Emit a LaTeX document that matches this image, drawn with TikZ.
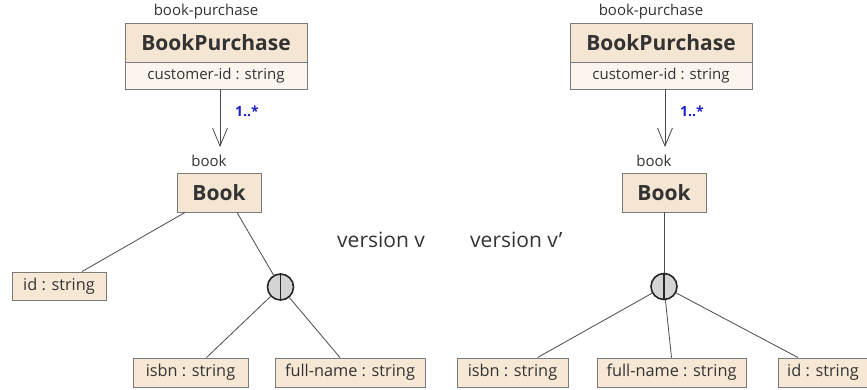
\documentclass[tikz,border=0pt]{standalone}
\usepackage{fontspec}
\setmainfont{Open Sans}
\usetikzlibrary{arrows.meta,calc}
\definecolor{hdr}{HTML}{F5E6D3}
\definecolor{att}{HTML}{FBF5EE}
\definecolor{leaf}{HTML}{F7E8D6}
\definecolor{bord}{HTML}{7A7A7A}
\definecolor{ln}{HTML}{4A4A4A}
\definecolor{mult}{HTML}{1E1ECC}
\definecolor{txt}{HTML}{333333}
\tikzset{
  boxbase/.style={draw=bord, line width=0.9pt, inner sep=0pt, anchor=center, text=txt},
  hdrbox/.style={boxbase, fill=hdr, font=\fontsize{21}{24}\selectfont\bfseries},
  attbox/.style={boxbase, fill=att, font=\fontsize{15}{18}\selectfont},
  leafbox/.style={boxbase, fill=leaf, font=\fontsize{16.3}{19}\selectfont},
  lbl/.style={font=\fontsize{15}{18}\selectfont, text=txt, inner sep=0pt},
  edge/.style={draw=ln, line width=0.8pt},
  grp/.style={circle, draw=black!85, line width=1.6pt, fill=black!17, minimum size=26pt, inner sep=0pt},
  multl/.style={font=\fontsize{14}{16}\selectfont\bfseries, text=mult, inner sep=0pt},
  ver/.style={font=\fontsize{21}{24}\selectfont, text=txt, inner sep=0pt},
  arr/.style={-{Straight Barb[length=18pt,width=15pt]}}
}
\begin{document}
\begin{tikzpicture}[x=1pt,y=-1pt]
\useasboundingbox (0,0) rectangle (867,389);
% ---------- left version ----------
\node[lbl] (bplA) at (206,12) {book-purchase};
\node[hdrbox, minimum width=182pt, minimum height=39pt] (bpA) at (216,42.5) {BookPurchase};
\node[attbox, minimum width=182pt, minimum height=27pt] (bpattA) at (216,75.5) {customer-id : string};
\node[lbl] (bklA) at (209,161) {book};
\node[hdrbox, minimum width=84pt, minimum height=39pt] (bkA) at (219,192.5) {Book};
\coordinate (tipA) at (220,147);
\draw[edge, arr] (bpattA.south -| tipA) -- (tipA);
\node[multl] (mA) at (247,111) {1..*};
\node[leafbox, minimum width=94pt, minimum height=28pt] (idA) at (59,286) {id : string};
\node[grp] (gA) at (280.5,287) {};
\draw[line width=1.6pt, black!85] (gA.north) -- (gA.south);
\node[leafbox, minimum width=115pt, minimum height=29pt] (isbnA) at (190.5,372.5) {isbn : string};
\node[leafbox, minimum width=150pt, minimum height=29pt] (fnA) at (350,372.5) {full-name : string};
\draw[edge] ($(bkA.south)+(-34,0)$) -- ($(idA.north)+(23,0)$);
\draw[edge] ($(bkA.south)+(18,0)$) -- (gA);
\draw[edge] (gA) -- ($(isbnA.north)+(16,0)$);
\draw[edge] (gA) -- ($(fnA.north)+(-10,0)$);
% ---------- labels ----------
\node[ver, anchor=west] (vA) at (337,240) {version v};
\node[ver, anchor=west] (vB) at (470,240) {version v'};
% ---------- right version ----------
\node[lbl] (bplB) at (651,12) {book-purchase};
\node[hdrbox, minimum width=182pt, minimum height=39pt] (bpB) at (661,42.5) {BookPurchase};
\node[attbox, minimum width=182pt, minimum height=27pt] (bpattB) at (661,75.5) {customer-id : string};
\node[lbl] (bklB) at (654,161) {book};
\node[hdrbox, minimum width=84pt, minimum height=39pt] (bkB) at (664,192.5) {Book};
\coordinate (tipB) at (665,147);
\draw[edge, arr] (bpattB.south -| tipB) -- (tipB);
\node[multl] (mB) at (692,111) {1..*};
\node[grp] (gB) at (664,286.5) {};
\node[leafbox, minimum width=111pt, minimum height=29pt] (isbnB) at (512.5,372.5) {isbn : string};
\node[leafbox, minimum width=149pt, minimum height=29pt] (fnB) at (671.5,372.5) {full-name : string};
\node[leafbox, minimum width=90pt, minimum height=29pt] (idB) at (823,372.5) {id : string};
\draw[edge] (bkB.south) -- (gB);
\draw[line width=1.6pt, black!85] (gB.north) -- (gB.south);
\draw[edge] (gB) -- ($(isbnB.north)+(25,0)$);
\draw[edge] (gB) -- (fnB.north);
\draw[edge] (gB) -- ($(idB.north)+(-25,0)$);
\end{tikzpicture}
\end{document}
